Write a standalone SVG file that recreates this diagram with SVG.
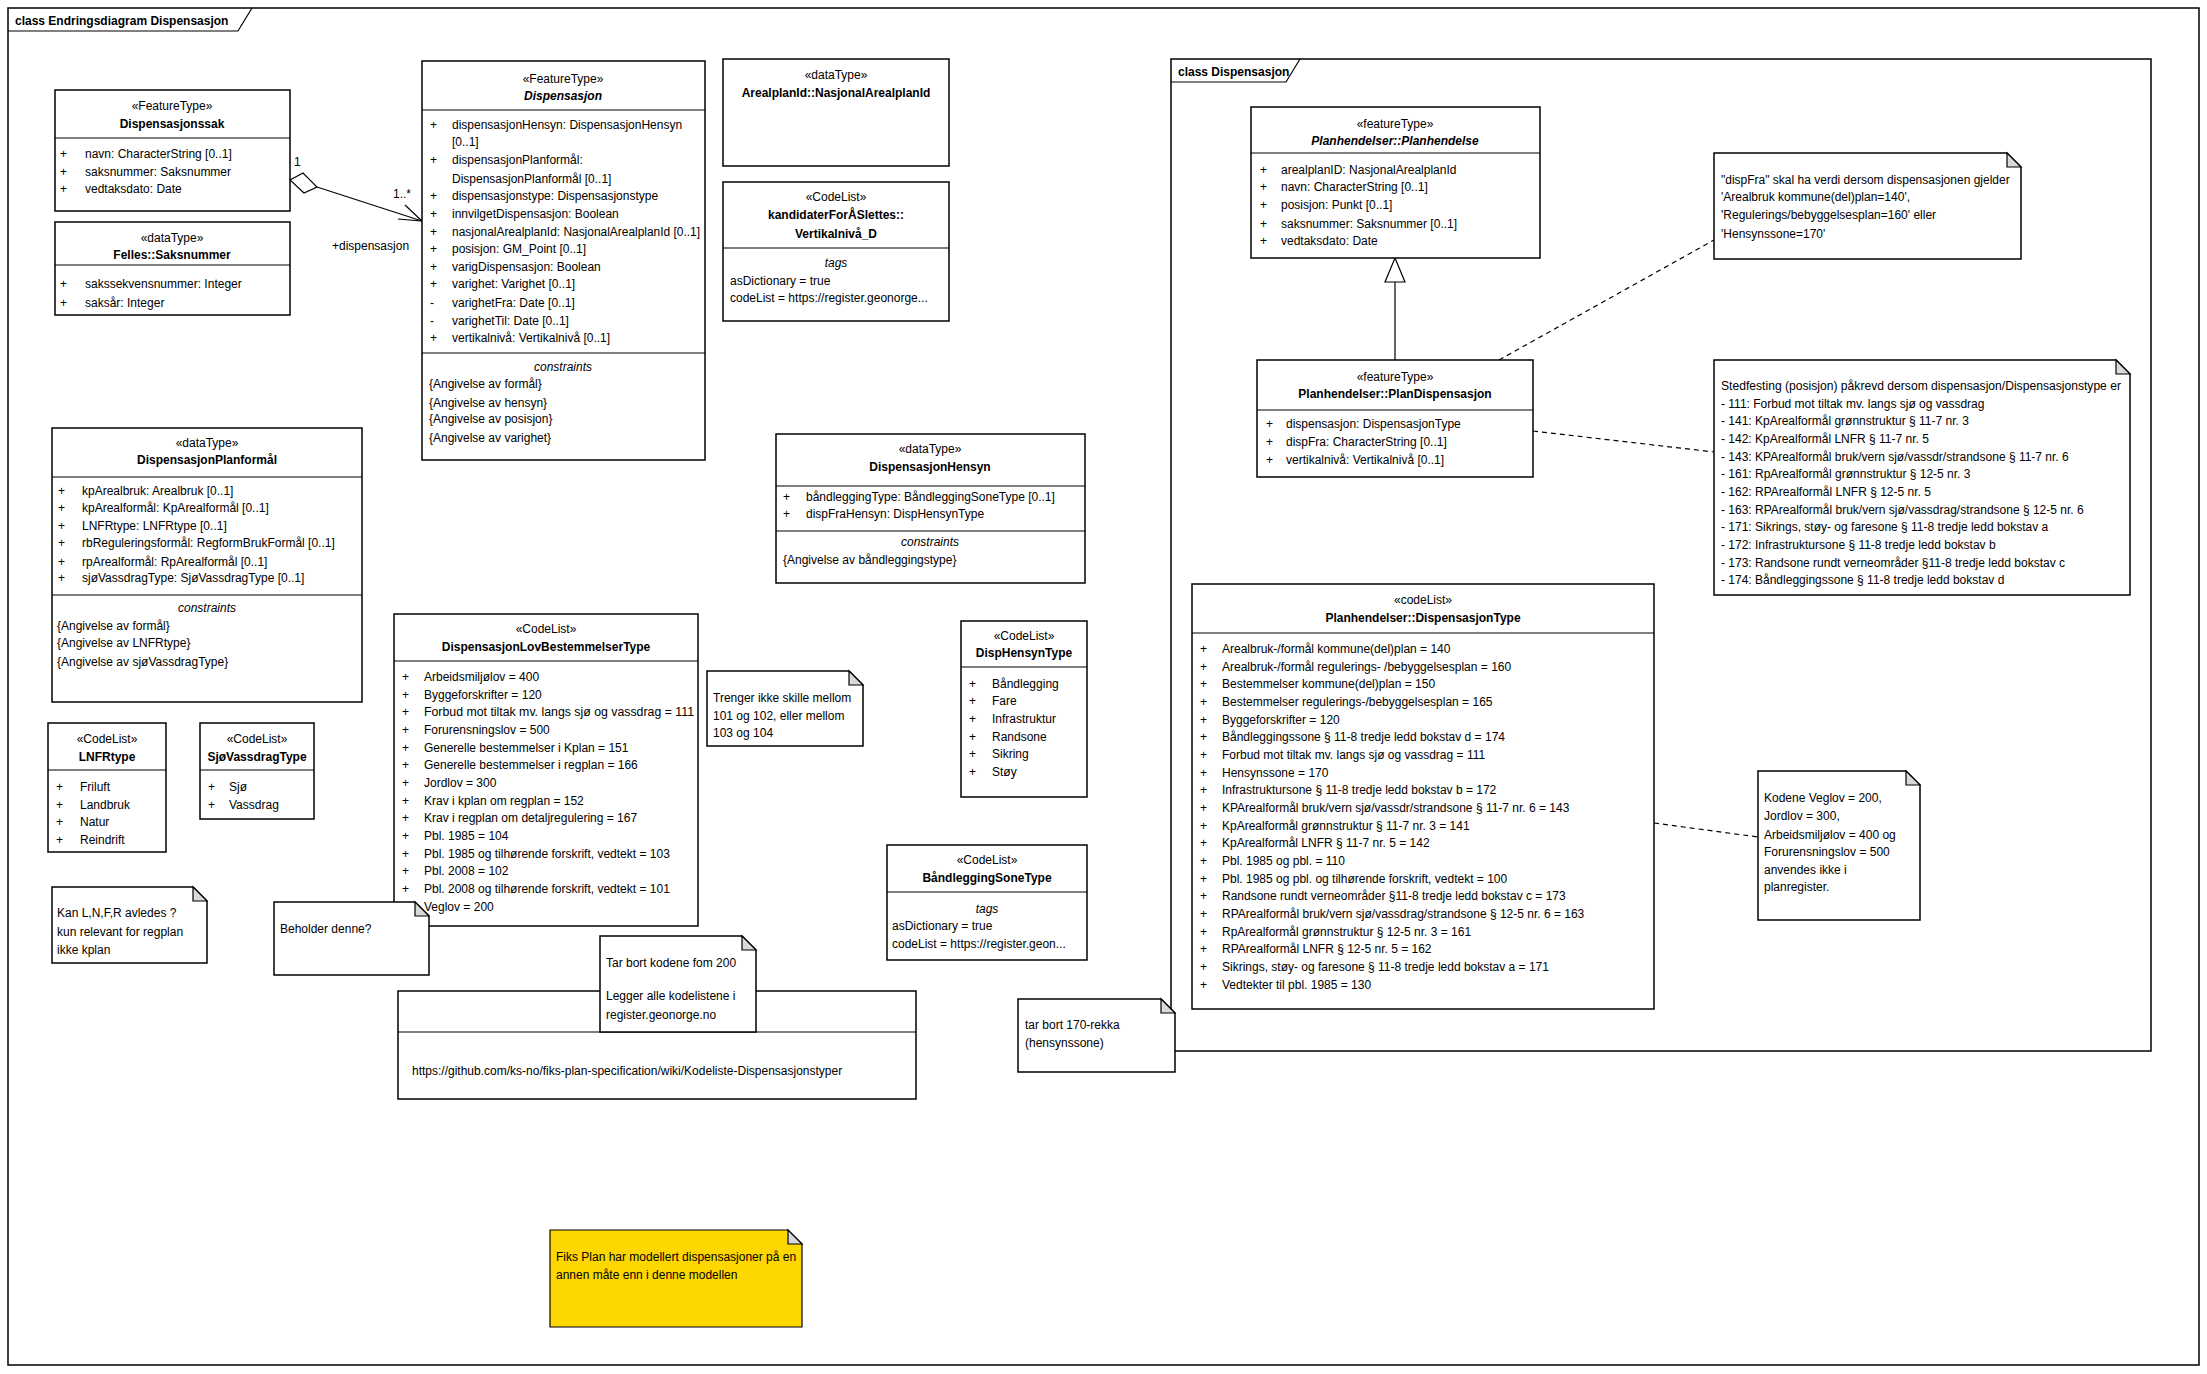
<svg xmlns="http://www.w3.org/2000/svg" width="2207" height="1374" viewBox="0 0 2207 1374">
<style>
text{font-family:"Liberation Sans",Arial,sans-serif;font-size:12px;fill:#000}
.b{font-weight:bold}.i{font-style:italic}.c{text-anchor:middle}
.box{fill:#fff;stroke:#000;stroke-width:1.5}
.ln{stroke:#000;stroke-width:1.2;fill:none}
.dash{stroke:#000;stroke-width:1.2;fill:none;stroke-dasharray:5,4}
.fold{fill:#d9d9d9;stroke:#000;stroke-width:1.2}
</style>
<rect x="0" y="0" width="2207" height="1374" fill="#fff"/>
<g id="frame-outer">
<rect x="8" y="8" width="2191" height="1357" fill="none" stroke="#000" stroke-width="1.5"/>
<path d="M8,31 H238 L252,8" class="ln"/>
<text x="15" y="25" class="b">class Endringsdiagram Dispensasjon</text>
</g>
<g id="frame-dispensasjon">
<rect x="1171" y="59" width="980" height="992" fill="none" stroke="#000" stroke-width="1.5"/>
<path d="M1171,82 H1286 L1300,59" class="ln"/>
<text x="1178" y="76" class="b">class Dispensasjon</text>
</g>

<g id="connectors">
<path d="M290,180 L303,173 L317,187 L304,193 Z" fill="#fff" stroke="#000" stroke-width="1.2"/>
<path d="M317,187 L422,221" class="ln"/>
<path d="M398,219 L422,221 L405,205" class="ln"/>
<text x="294" y="166">1</text>
<text x="393" y="198">1..*</text>
<text x="332" y="250">+dispensasjon</text>
<path d="M1395,360 V282" class="ln"/>
<path d="M1395,258 L1405,282 H1385 Z" fill="#fff" stroke="#000" stroke-width="1.2"/>
<path d="M1499,360 L1714,240" class="dash"/>
<path d="M1533,431 L1714,452" class="dash"/>
<path d="M1654,823 L1758,837" class="dash"/>
</g>

<g id="Dispensasjonssak">
<rect x="55" y="90" width="235" height="121" class="box"/>
<path d="M55,138 H290" class="ln"/>
<text x="172" y="110" class="c">«FeatureType»</text>
<text x="172" y="128" class="c b">Dispensasjonssak</text>
<text x="60" y="158">+</text><text x="85" y="158">navn: CharacterString [0..1]</text>
<text x="60" y="176">+</text><text x="85" y="176">saksnummer: Saksnummer</text>
<text x="60" y="193">+</text><text x="85" y="193">vedtaksdato: Date</text>
</g>

<g id="Saksnummer">
<rect x="55" y="222" width="235" height="93" class="box"/>
<path d="M55,265 H290" class="ln"/>
<text x="172" y="242" class="c">«dataType»</text>
<text x="172" y="259" class="c b">Felles::Saksnummer</text>
<text x="60" y="288">+</text><text x="85" y="288">sakssekvensnummer: Integer</text>
<text x="60" y="307">+</text><text x="85" y="307">saksår: Integer</text>
</g>

<g id="Dispensasjon">
<rect x="422" y="61" width="283" height="399" class="box"/>
<path d="M422,110 H705 M422,353 H705" class="ln"/>
<text x="563" y="83" class="c">«FeatureType»</text>
<text x="563" y="100" class="c b i">Dispensasjon</text>
<text x="430" y="129">+</text><text x="452" y="129">dispensasjonHensyn: DispensasjonHensyn</text>
<text x="452" y="146">[0..1]</text>
<text x="430" y="164">+</text><text x="452" y="164">dispensasjonPlanformål:</text>
<text x="452" y="183">DispensasjonPlanformål [0..1]</text>
<text x="430" y="200">+</text><text x="452" y="200">dispensasjonstype: Dispensasjonstype</text>
<text x="430" y="218">+</text><text x="452" y="218">innvilgetDispensasjon: Boolean</text>
<text x="430" y="236">+</text><text x="452" y="236" textLength="248" lengthAdjust="spacingAndGlyphs">nasjonalArealplanId: NasjonalArealplanId [0..1]</text>
<text x="430" y="253">+</text><text x="452" y="253">posisjon: GM_Point [0..1]</text>
<text x="430" y="271">+</text><text x="452" y="271">varigDispensasjon: Boolean</text>
<text x="430" y="288">+</text><text x="452" y="288">varighet: Varighet [0..1]</text>
<text x="430" y="307">-</text><text x="452" y="307">varighetFra: Date [0..1]</text>
<text x="430" y="325">-</text><text x="452" y="325">varighetTil: Date [0..1]</text>
<text x="430" y="342">+</text><text x="452" y="342">vertikalnivå: Vertikalnivå [0..1]</text>
<text x="563" y="371" class="c i">constraints</text>
<text x="429" y="388">{Angivelse av formål}</text>
<text x="429" y="407">{Angivelse av hensyn}</text>
<text x="429" y="423">{Angivelse av posisjon}</text>
<text x="429" y="442">{Angivelse av varighet}</text>
</g>

<g id="NasjonalArealplanId">
<rect x="723" y="59" width="226" height="107" class="box"/>
<text x="836" y="79" class="c">«dataType»</text>
<text x="836" y="97" class="c b">ArealplanId::NasjonalArealplanId</text>
</g>

<g id="Vertikalniva_D">
<rect x="723" y="182" width="226" height="139" class="box"/>
<path d="M723,248 H949" class="ln"/>
<text x="836" y="201" class="c">«CodeList»</text>
<text x="836" y="219" class="c b">kandidaterForÅSlettes::</text>
<text x="836" y="238" class="c b">Vertikalnivå_D</text>
<text x="836" y="267" class="c i">tags</text>
<text x="730" y="285">asDictionary = true</text>
<text x="730" y="302">codeList = https://register.geonorge...</text>
</g>

<g id="DispensasjonHensyn">
<rect x="776" y="434" width="309" height="149" class="box"/>
<path d="M776,486 H1085 M776,531 H1085" class="ln"/>
<text x="930" y="453" class="c">«dataType»</text>
<text x="930" y="471" class="c b">DispensasjonHensyn</text>
<text x="783" y="501">+</text><text x="806" y="501">båndleggingType: BåndleggingSoneType [0..1]</text>
<text x="783" y="518">+</text><text x="806" y="518">dispFraHensyn: DispHensynType</text>
<text x="930" y="546" class="c i">constraints</text>
<text x="783" y="564">{Angivelse av båndleggingstype}</text>
</g>

<g id="DispensasjonPlanformal">
<rect x="52" y="428" width="310" height="274" class="box"/>
<path d="M52,477 H362 M52,595 H362" class="ln"/>
<text x="207" y="447" class="c">«dataType»</text>
<text x="207" y="464" class="c b">DispensasjonPlanformål</text>
<text x="58" y="495">+</text><text x="82" y="495">kpArealbruk: Arealbruk [0..1]</text>
<text x="58" y="512">+</text><text x="82" y="512">kpArealformål: KpArealformål [0..1]</text>
<text x="58" y="530">+</text><text x="82" y="530">LNFRtype: LNFRtype [0..1]</text>
<text x="58" y="547">+</text><text x="82" y="547">rbReguleringsformål: RegformBrukFormål [0..1]</text>
<text x="58" y="566">+</text><text x="82" y="566">rpArealformål: RpArealformål [0..1]</text>
<text x="58" y="582">+</text><text x="82" y="582">sjøVassdragType: SjøVassdragType [0..1]</text>
<text x="207" y="612" class="c i">constraints</text>
<text x="57" y="630">{Angivelse av formål}</text>
<text x="57" y="647">{Angivelse av LNFRtype}</text>
<text x="57" y="666">{Angivelse av sjøVassdragType}</text>
</g>

<g id="LNFRtype">
<rect x="48" y="723" width="118" height="129" class="box"/>
<path d="M48,770 H166" class="ln"/>
<text x="107" y="743" class="c">«CodeList»</text>
<text x="107" y="761" class="c b">LNFRtype</text>
<text x="56" y="791">+</text><text x="80" y="791">Friluft</text>
<text x="56" y="809">+</text><text x="80" y="809">Landbruk</text>
<text x="56" y="826">+</text><text x="80" y="826">Natur</text>
<text x="56" y="844">+</text><text x="80" y="844">Reindrift</text>
</g>

<g id="SjoVassdragType">
<rect x="200" y="723" width="114" height="96" class="box"/>
<path d="M200,770 H314" class="ln"/>
<text x="257" y="743" class="c">«CodeList»</text>
<text x="257" y="761" class="c b">SjøVassdragType</text>
<text x="208" y="791">+</text><text x="229" y="791">Sjø</text>
<text x="208" y="809">+</text><text x="229" y="809">Vassdrag</text>
</g>

<g id="note-lnfr">
<path d="M52,887 H193 L207,901 V963 H52 Z" class="box"/>
<path d="M193,887 V901 H207 Z" class="fold"/>
<text x="57" y="917">Kan L,N,F,R avledes ?</text>
<text x="57" y="936">kun relevant for regplan</text>
<text x="57" y="954">ikke kplan</text>
</g>

<g id="DispensasjonLovBestemmelserType">
<rect x="394" y="614" width="304" height="312" class="box"/>
<path d="M394,661 H698" class="ln"/>
<text x="546" y="633" class="c">«CodeList»</text>
<text x="546" y="651" class="c b">DispensasjonLovBestemmelserType</text>
<text x="402" y="681">+</text><text x="424" y="681">Arbeidsmiljølov = 400</text>
<text x="402" y="699">+</text><text x="424" y="699">Byggeforskrifter = 120</text>
<text x="402" y="716">+</text><text x="424" y="716" textLength="270" lengthAdjust="spacingAndGlyphs">Forbud mot tiltak mv. langs sjø og vassdrag = 111</text>
<text x="402" y="734">+</text><text x="424" y="734">Forurensningslov = 500</text>
<text x="402" y="752">+</text><text x="424" y="752">Generelle bestemmelser i Kplan = 151</text>
<text x="402" y="769">+</text><text x="424" y="769">Generelle bestemmelser i regplan = 166</text>
<text x="402" y="787">+</text><text x="424" y="787">Jordlov = 300</text>
<text x="402" y="805">+</text><text x="424" y="805">Krav i kplan om regplan = 152</text>
<text x="402" y="822">+</text><text x="424" y="822">Krav i regplan om detaljregulering = 167</text>
<text x="402" y="840">+</text><text x="424" y="840">Pbl. 1985 = 104</text>
<text x="402" y="858">+</text><text x="424" y="858">Pbl. 1985 og tilhørende forskrift, vedtekt = 103</text>
<text x="402" y="875">+</text><text x="424" y="875">Pbl. 2008 = 102</text>
<text x="402" y="893">+</text><text x="424" y="893">Pbl. 2008 og tilhørende forskrift, vedtekt = 101</text>
<text x="424" y="911">Veglov = 200</text>
</g>

<g id="note-beholder">
<path d="M274,902 H415 L429,916 V975 H274 Z" class="box"/>
<path d="M415,902 V916 H429 Z" class="fold"/>
<text x="280" y="933">Beholder denne?</text>
</g>

<g id="note-trenger">
<path d="M707,671 H849 L863,685 V746 H707 Z" class="box"/>
<path d="M849,671 V685 H863 Z" class="fold"/>
<text x="713" y="702">Trenger ikke skille mellom</text>
<text x="713" y="720">101 og 102, eller mellom</text>
<text x="713" y="737">103 og 104</text>
</g>

<g id="DispHensynType">
<rect x="961" y="621" width="126" height="176" class="box"/>
<path d="M961,667 H1087" class="ln"/>
<text x="1024" y="640" class="c">«CodeList»</text>
<text x="1024" y="657" class="c b">DispHensynType</text>
<text x="969" y="688">+</text><text x="992" y="688">Båndlegging</text>
<text x="969" y="705">+</text><text x="992" y="705">Fare</text>
<text x="969" y="723">+</text><text x="992" y="723">Infrastruktur</text>
<text x="969" y="741">+</text><text x="992" y="741">Randsone</text>
<text x="969" y="758">+</text><text x="992" y="758">Sikring</text>
<text x="969" y="776">+</text><text x="992" y="776">Støy</text>
</g>

<g id="BandleggingSoneType">
<rect x="887" y="845" width="200" height="115" class="box"/>
<path d="M887,892 H1087" class="ln"/>
<text x="987" y="864" class="c">«CodeList»</text>
<text x="987" y="882" class="c b">BåndleggingSoneType</text>
<text x="987" y="913" class="c i">tags</text>
<text x="892" y="930">asDictionary = true</text>
<text x="892" y="948">codeList = https://register.geon...</text>
</g>

<g id="github">
<rect x="398" y="991" width="518" height="108" class="box"/>
<path d="M398,1032 H916" class="ln"/>
<text x="412" y="1075">https://github.com/ks-no/fiks-plan-specification/wiki/Kodeliste-Dispensasjonstyper</text>
</g>

<g id="note-tarbort">
<path d="M600,936 H742 L756,950 V1032 H600 Z" class="box"/>
<path d="M742,936 V950 H756 Z" class="fold"/>
<text x="606" y="967">Tar bort kodene fom 200</text>
<text x="606" y="1000">Legger alle kodelistene i</text>
<text x="606" y="1019">register.geonorge.no</text>
</g>

<g id="note-170">
<path d="M1018,999 H1161 L1175,1013 V1072 H1018 Z" class="box"/>
<path d="M1161,999 V1013 H1175 Z" class="fold"/>
<text x="1025" y="1029">tar bort 170-rekka</text>
<text x="1025" y="1047">(hensynssone)</text>
</g>

<g id="note-fiks">
<path d="M550,1230 H788 L802,1244 V1327 H550 Z" fill="#ffd700" stroke="#000" stroke-width="1.2"/>
<path d="M788,1230 V1244 H802 Z" class="fold"/>
<text x="556" y="1261">Fiks Plan har modellert dispensasjoner på en</text>
<text x="556" y="1279">annen måte enn i denne modellen</text>
</g>

<g id="Planhendelse">
<rect x="1251" y="107" width="289" height="151" class="box"/>
<path d="M1251,153 H1540" class="ln"/>
<text x="1395" y="128" class="c">«featureType»</text>
<text x="1395" y="145" class="c b i">Planhendelser::Planhendelse</text>
<text x="1260" y="174">+</text><text x="1281" y="174">arealplanID: NasjonalArealplanId</text>
<text x="1260" y="191">+</text><text x="1281" y="191">navn: CharacterString [0..1]</text>
<text x="1260" y="209">+</text><text x="1281" y="209">posisjon: Punkt [0..1]</text>
<text x="1260" y="228">+</text><text x="1281" y="228">saksnummer: Saksnummer [0..1]</text>
<text x="1260" y="245">+</text><text x="1281" y="245">vedtaksdato: Date</text>
</g>

<g id="PlanDispensasjon">
<rect x="1257" y="360" width="276" height="117" class="box"/>
<path d="M1257,410 H1533" class="ln"/>
<text x="1395" y="381" class="c">«featureType»</text>
<text x="1395" y="398" class="c b">Planhendelser::PlanDispensasjon</text>
<text x="1266" y="428">+</text><text x="1286" y="428">dispensasjon: DispensasjonType</text>
<text x="1266" y="446">+</text><text x="1286" y="446">dispFra: CharacterString [0..1]</text>
<text x="1266" y="464">+</text><text x="1286" y="464">vertikalnivå: Vertikalnivå [0..1]</text>
</g>

<g id="note-dispfra">
<path d="M1714,153 H2007 L2021,167 V259 H1714 Z" class="box"/>
<path d="M2007,153 V167 H2021 Z" class="fold"/>
<text x="1721" y="184">"dispFra" skal ha verdi dersom dispensasjonen gjelder</text>
<text x="1721" y="201">'Arealbruk kommune(del)plan=140',</text>
<text x="1721" y="219">'Regulerings/bebyggelsesplan=160' eller</text>
<text x="1721" y="238">'Hensynssone=170'</text>
</g>

<g id="note-stedfesting">
<path d="M1714,360 H2116 L2130,374 V595 H1714 Z" class="box"/>
<path d="M2116,360 V374 H2130 Z" class="fold"/>
<text x="1721" y="390" textLength="400" lengthAdjust="spacingAndGlyphs">Stedfesting (posisjon) påkrevd dersom dispensasjon/Dispensasjonstype er</text>
<text x="1721" y="408">- 111: Forbud mot tiltak mv. langs sjø og vassdrag</text>
<text x="1721" y="425">- 141: KpArealformål grønnstruktur § 11-7 nr. 3</text>
<text x="1721" y="443">- 142: KpArealformål LNFR § 11-7 nr. 5</text>
<text x="1721" y="461">- 143: KPArealformål bruk/vern sjø/vassdr/strandsone § 11-7 nr. 6</text>
<text x="1721" y="478">- 161: RpArealformål grønnstruktur § 12-5 nr. 3</text>
<text x="1721" y="496">- 162: RPArealformål LNFR § 12-5 nr. 5</text>
<text x="1721" y="514">- 163: RPArealformål bruk/vern sjø/vassdrag/strandsone § 12-5 nr. 6</text>
<text x="1721" y="531">- 171: Sikrings, støy- og faresone § 11-8 tredje  ledd bokstav a</text>
<text x="1721" y="549">- 172: Infrastruktursone § 11-8 tredje ledd bokstav b</text>
<text x="1721" y="567">- 173: Randsone rundt verneområder §11-8 tredje ledd bokstav c</text>
<text x="1721" y="584">- 174: Båndleggingssone § 11-8 tredje ledd bokstav d</text>
</g>

<g id="DispensasjonType">
<rect x="1192" y="584" width="462" height="425" class="box"/>
<path d="M1192,633 H1654" class="ln"/>
<text x="1423" y="604" class="c">«codeList»</text>
<text x="1423" y="622" class="c b">Planhendelser::DispensasjonType</text>
<text x="1200" y="653">+</text><text x="1222" y="653">Arealbruk-/formål kommune(del)plan = 140</text>
<text x="1200" y="671">+</text><text x="1222" y="671">Arealbruk-/formål regulerings- /bebyggelsesplan = 160</text>
<text x="1200" y="688">+</text><text x="1222" y="688">Bestemmelser kommune(del)plan = 150</text>
<text x="1200" y="706">+</text><text x="1222" y="706">Bestemmelser regulerings-/bebyggelsesplan = 165</text>
<text x="1200" y="724">+</text><text x="1222" y="724">Byggeforskrifter = 120</text>
<text x="1200" y="741">+</text><text x="1222" y="741">Båndleggingssone § 11-8 tredje ledd bokstav d = 174</text>
<text x="1200" y="759">+</text><text x="1222" y="759">Forbud mot tiltak mv. langs sjø og vassdrag = 111</text>
<text x="1200" y="777">+</text><text x="1222" y="777">Hensynssone = 170</text>
<text x="1200" y="794">+</text><text x="1222" y="794">Infrastruktursone § 11-8 tredje ledd bokstav b = 172</text>
<text x="1200" y="812">+</text><text x="1222" y="812">KPArealformål bruk/vern sjø/vassdr/strandsone § 11-7 nr. 6 = 143</text>
<text x="1200" y="830">+</text><text x="1222" y="830">KpArealformål grønnstruktur § 11-7 nr. 3 = 141</text>
<text x="1200" y="847">+</text><text x="1222" y="847">KpArealformål LNFR § 11-7 nr. 5 = 142</text>
<text x="1200" y="865">+</text><text x="1222" y="865">Pbl. 1985 og pbl. = 110</text>
<text x="1200" y="883">+</text><text x="1222" y="883">Pbl. 1985 og pbl. og tilhørende forskrift, vedtekt = 100</text>
<text x="1200" y="900">+</text><text x="1222" y="900">Randsone rundt verneområder §11-8 tredje ledd bokstav c = 173</text>
<text x="1200" y="918">+</text><text x="1222" y="918">RPArealformål bruk/vern sjø/vassdrag/strandsone § 12-5 nr. 6 = 163</text>
<text x="1200" y="936">+</text><text x="1222" y="936">RpArealformål grønnstruktur § 12-5 nr. 3 = 161</text>
<text x="1200" y="953">+</text><text x="1222" y="953">RPArealformål LNFR § 12-5 nr. 5 = 162</text>
<text x="1200" y="971">+</text><text x="1222" y="971">Sikrings, støy- og faresone § 11-8 tredje  ledd bokstav a = 171</text>
<text x="1200" y="989">+</text><text x="1222" y="989">Vedtekter til pbl. 1985 = 130</text>
</g>

<g id="note-kodene">
<path d="M1758,771 H1906 L1920,785 V920 H1758 Z" class="box"/>
<path d="M1906,771 V785 H1920 Z" class="fold"/>
<text x="1764" y="802">Kodene Veglov = 200,</text>
<text x="1764" y="820">Jordlov = 300,</text>
<text x="1764" y="839">Arbeidsmiljølov = 400 og</text>
<text x="1764" y="856">Forurensningslov = 500</text>
<text x="1764" y="874">anvendes ikke i</text>
<text x="1764" y="891">planregister.</text>
</g>
</svg>
